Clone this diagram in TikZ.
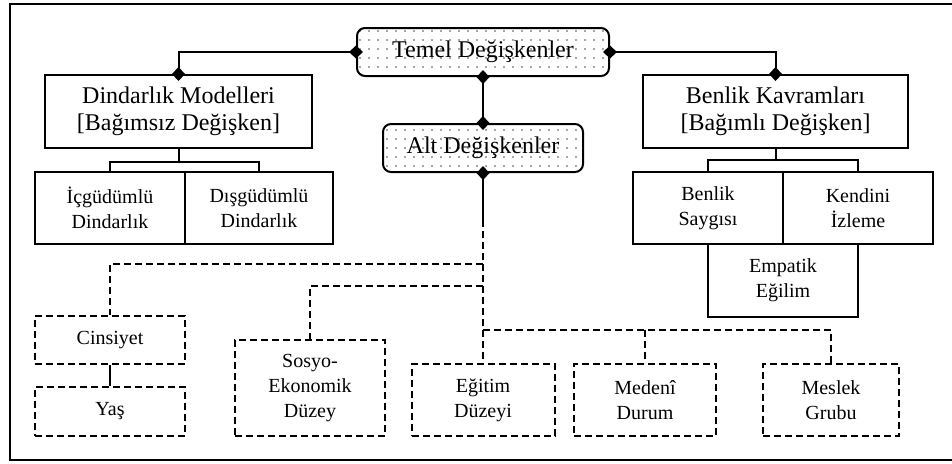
\documentclass[tikz,border=0pt]{standalone}
\usepackage{fontspec}
\setmainfont{Liberation Serif}
\usepackage{tikz}
\usetikzlibrary{arrows.meta,patterns.meta}

\tikzset{
  mainbox/.style={draw, line width=1pt, align=center, font=\fontsize{12}{13.5}\selectfont, inner sep=0pt},
  subbox/.style={draw, line width=1pt, align=center, font=\fontsize{10}{12.5}\selectfont, inner sep=0pt},
  dotbox/.style={mainbox, rounded corners=4pt, pattern={Dots[distance=4.5pt,radius=0.4pt]}, pattern color=black!70},
  dashbox/.style={subbox, dash pattern=on 3.5pt off 2pt},
  link/.style={line width=1pt},
  dashlink/.style={line width=1pt, dash pattern=on 3.5pt off 2pt},
  dtip/.style={{Diamond[length=7pt,width=6.5pt]}-{Diamond[length=7pt,width=6.5pt]}, shorten <=-3.5pt, shorten >=-3.5pt},
  dstart/.style={{Diamond[length=7pt,width=6.5pt]}-, shorten <=-3.5pt}
}

\begin{document}
\begin{tikzpicture}[x=0.5pt,y=-0.5pt]
\useasboundingbox (0,0) rectangle (952,463);

%Frame
\draw [line width=1pt] (10,4) rectangle (970,460);

% Top nodes
\node [dotbox, minimum width=126pt, minimum height=24pt] (temel) at (483,52) {Temel Değişkenler};
\node [dotbox, minimum width=100pt, minimum height=24pt] (alt) at (483,148) {Alt Değişkenler};
\node [mainbox, minimum width=133.5pt, minimum height=36.5pt] (dind) at (178.5,111.5) {Dindarlık Modelleri\\{[}Bağımsız Değişken{]}};
\node [mainbox, minimum width=132.5pt, minimum height=36.5pt] (benlik) at (775.5,111.5) {Benlik Kavramları\\{[}Bağımlı Değişken{]}};

% Sub nodes, left
\node [subbox, minimum width=75pt, minimum height=36pt] (icg) at (110,208) {İçgüdümlü\\Dindarlık};
\node [subbox, minimum width=74pt, minimum height=36pt] (disg) at (259,208) {Dışgüdümlü\\Dindarlık};

% Sub nodes, right
\node [subbox, minimum width=75pt, minimum height=36pt] (saygi) at (708,208) {Benlik\\Saygısı};
\node [subbox, minimum width=75pt, minimum height=36pt] (kendini) at (858,208) {Kendini\\İzleme};
\node [subbox, minimum width=75pt, minimum height=36.5pt] (empatik) at (783,280.5) {Empatik\\Eğilim};

% Dashed nodes
\node [dashbox, minimum width=75pt, minimum height=24pt] (cinsiyet) at (110,340) {Cinsiyet};
\node [dashbox, minimum width=75pt, minimum height=24.5pt] (yas) at (110,411.5) {Yaş};
\node [dashbox, minimum width=75pt, minimum height=48pt] (sosyo) at (310,388) {Sosyo-\\Ekonomik\\Düzey};
\node [dashbox, minimum width=71.5pt, minimum height=36pt] (egitim) at (483,400) {Eğitim\\Düzeyi};
\node [dashbox, minimum width=71pt, minimum height=36pt] (medeni) at (645,400) {Medenî\\Durum};
\node [dashbox, minimum width=68pt, minimum height=36pt] (meslek) at (831,400) {Meslek\\Grubu};

% Junctions
\coordinate (dj) at (178.5,162);
\coordinate (bj) at (775.5,160);
\coordinate (trunk) at (483,220);
\coordinate (j1) at (483,264);
\coordinate (j2) at (483,286);
\coordinate (j3) at (483,330);

%Solid links
\draw [link, dtip] (temel.west) -| (dind.north);
\draw [link, dtip] (temel.east) -| (benlik.north);
\draw [link, dtip] (temel.south) -- (alt.north);
\draw [link, dstart] (alt.south) -- (trunk);
\draw [link] (dind.south) -- (dj) -| (icg.north);
\draw [link] (dj) -| (disg.north);
\draw [link] (benlik.south) -- (bj) -| (saygi.north);
\draw [link] (bj) -| (kendini.north);
\draw [link] (cinsiyet.south) -- (yas.north);

%Dashed links
\draw [dashlink] (trunk) -- (egitim.north);
\draw [dashlink] (j1) -| (cinsiyet.north);
\draw [dashlink] (j2) -| (sosyo.north);
\draw [dashlink] (j3) -| (meslek.north);
\draw [dashlink] (medeni.north |- j3) -- (medeni.north);

\end{tikzpicture}
\end{document}
